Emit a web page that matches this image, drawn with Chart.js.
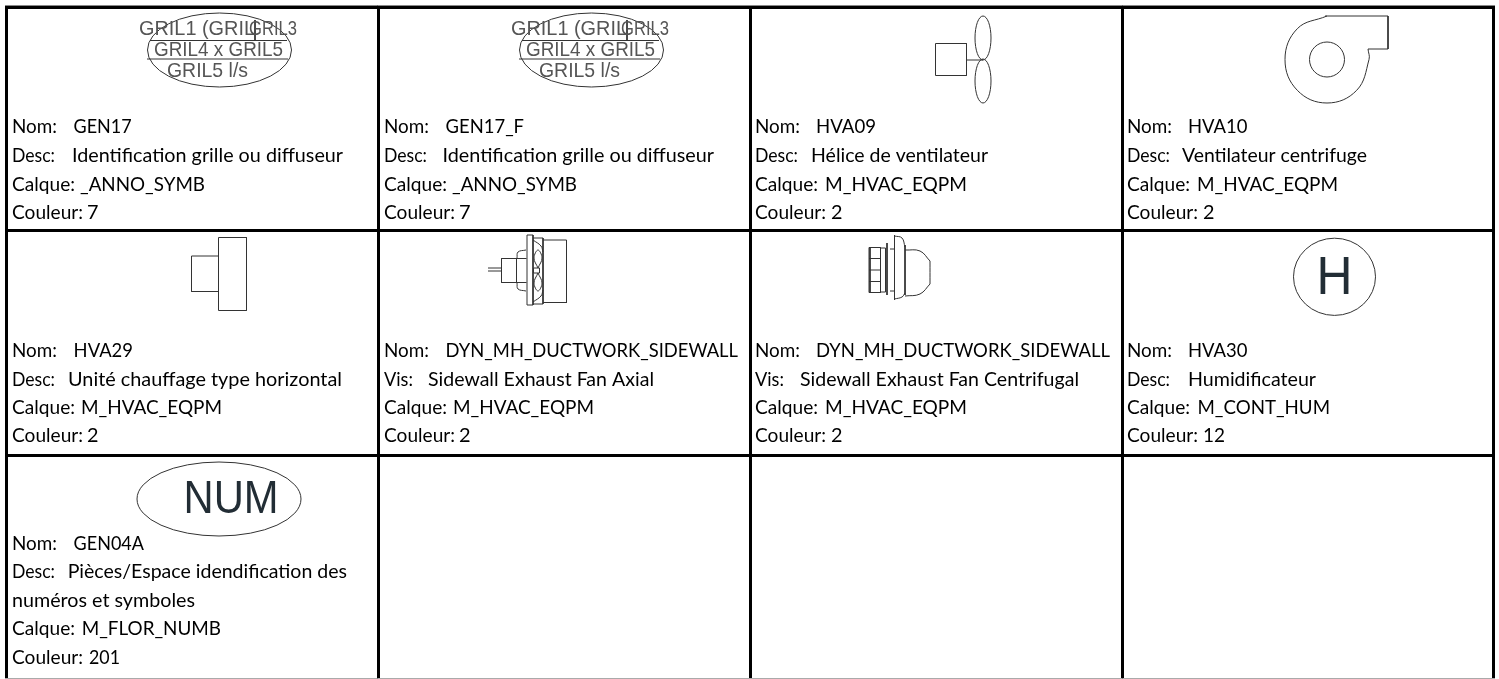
<!DOCTYPE html>
<html><head><meta charset="utf-8">
<style>html,body{margin:0;padding:0;background:#fff;overflow:hidden}#w{width:1499px;height:679px;position:relative}</style>
<script src="https://cdn.jsdelivr.net/npm/chart.js@4"></script>
</head><body><div id="w"><canvas id="c" width="1499" height="679"></canvas></div>
<script>
const colEdges=[6.5,378,750.5,1122.5,1493.5];
const rowEdges=[7,231,455,678.5];
const colText=[12,384,755,1127];
const labelFit={"Nom:":45,"Desc:":43,"Vis:":29,"Calque:":63,"Couleur:":71};
const row1=[
[["Nom:","GEN17"],["Desc:","Identification grille ou diffuseur"],["Calque:","_ANNO_SYMB"],["Couleur:","7"]],
[["Nom:","GEN17_F"],["Desc:","Identification grille ou diffuseur"],["Calque:","_ANNO_SYMB"],["Couleur:","7"]],
[["Nom:","HVA09"],["Desc:","Hélice de ventilateur"],["Calque:","M_HVAC_EQPM"],["Couleur:","2"]],
[["Nom:","HVA10"],["Desc:","Ventilateur centrifuge"],["Calque:","M_HVAC_EQPM"],["Couleur:","2"]]];
const row2=[
[["Nom:","HVA29"],["Desc:","Unité chauffage type horizontal"],["Calque:","M_HVAC_EQPM"],["Couleur:","2"]],
[["Nom:","DYN_MH_DUCTWORK_SIDEWALL"],["Vis:","Sidewall Exhaust Fan Axial"],["Calque:","M_HVAC_EQPM"],["Couleur:","2"]],
[["Nom:","DYN_MH_DUCTWORK_SIDEWALL"],["Vis:","Sidewall Exhaust Fan Centrifugal"],["Calque:","M_HVAC_EQPM"],["Couleur:","2"]],
[["Nom:","HVA30"],["Desc:","Humidificateur"],["Calque:","M_CONT_HUM"],["Couleur:","12"]]];
const row3=[
[["Nom:","GEN04A"],["Desc:","Pièces/Espace idendification des"],["","numéros et symboles"],["Calque:","M_FLOR_NUMB"],["Couleur:","201"]]];
const rowLineY=[[127,156,185,213],[351,380,408,436],[544,572,601,629,658]];
// start and end x of each value text
const valueSpan1=[
[[73.6,131.7],[72,343],[80,205],[87,98.5]],
[[445.6,524],[442.5,714],[452,577],[459,470.6]],
[[816,876],[811,988],[825,967],[831,842.5]],
[[1188,1247.5],[1182,1367],[1197,1338],[1203,1214.5]]];
const valueSpan2=[
[[73.6,133],[68,342],[81,222],[87,98.5]],
[[445.6,738],[428,654],[453,594],[459,470.6]],
[[816,1110],[800,1079],[825,967],[831,842.5]],
[[1188,1247.5],[1188,1316],[1197.5,1330],[1203,1225]]];
const valueSpan3=[
[[73.6,144],[67.7,347],[12,195],[81.7,221],[89,120]]];

// symbol labels: text, x centre, y centre, font px, fitted width, colour
const symbolLabels=[
["GRIL1 (GRIL",197,29,21,116,"#555"],["GRIL3",273,29,21,48,"#555"],["GRIL4 x GRIL5",218.5,50,21,129,"#555"],["GRIL5 l/s",207.5,71,21,81,"#555"],
["GRIL1 (GRIL",569,29,21,116,"#555"],["GRIL3",645,29,21,48,"#555"],["GRIL4 x GRIL5",590.5,50,21,129,"#555"],["GRIL5 l/s",579.5,71,21,81,"#555"],
["H",1334.5,279,53,36,"#222d35"],["NUM",231,500,46,95,"#222d35"]];
// ellipses: cx, cy, rx, ry
const ellipses=[[219.5,50,72,37],[591.5,50,72,37],[983,38,8,22],[983,81,8,22],[1327,59.5,17.5,17.5],[1334.5,276.8,41,38.6],[219,499,82,37]];
// straight outlines
const lines=[
[[150,40.5],[287,40.5]],[[147,59],[288,59]],[[255,20],[255,40.5]],
[[522,40.5],[659,40.5]],[[519,59],[660,59]],[[627,20],[627,40.5]],
[[935.5,43.5],[966.5,43.5],[966.5,75.5],[935.5,75.5],[935.5,43.5]],[[966.5,60],[983,60]],
[[1325,16],[1388,16],[1388,49],[1368,49]],
[[218.5,256],[191.5,256],[191.5,291.5],[218.5,291.5]],[[218.5,237.5],[246.5,237.5],[246.5,310.5],[218.5,310.5],[218.5,237.5]],
[[488,268],[501.5,268]],[[488,271],[501.5,271]],[[501.5,258.5],[526.5,258.5]],[[501.5,282.5],[526.5,282.5]],[[501.5,258.5],[501.5,282.5]],[[516.5,258.5],[516.5,282.5]],
[[527,235],[533,235],[533,305],[527,305],[527,235]],[[543,240],[566.5,240]],[[543,302.5],[566.5,302.5]],[[566.5,240],[566.5,303]],[[533,238],[543,238]],[[533,304],[543,304]],[[543,238],[543,304]],
[[533.5,268],[539.5,268],[539.5,273],[533.5,273],[533.5,268]],
[[869,247.5],[880.5,247.5],[880.5,292.5],[869,292.5],[869,247.5]],[[870,247.5],[870,292.5]],[[869,258.5],[880.5,258.5]],[[869,270],[880.5,270]],[[869,281.5],[880.5,281.5]],[[885.5,248],[885.5,292]],[[880.5,248],[885.5,248]],[[880.5,292],[885.5,292]],
[[887,243],[887,295]],[[890,249],[894,249]],[[890,291],[894,291]],[[894.5,235],[894.5,300]],[[905,245],[905,295]]
];
// curved outlines
const curves=[
[[1368,49],[1369,59.5],[1356.7,90.3],[1327,103],[1297.3,90.3],[1285,59.5],[1297.3,28.7],[1327,16]],
[[517,258],[518,252],[526,250]],[[517,283],[518,289],[526,291]],
[[533,240],[541,246],[543,252]],[[533,302],[541,296],[543,290]],
[[538,268],[534,258],[538,250],[542,258],[538,268]],[[538,273],[534,283],[538,291],[542,283],[538,273]],
[[894.5,236],[902,238],[905,247]],[[894.5,299],[902,297],[905,293]],
[[905,250],[920,251],[930,261]],[[905,296],[920,294],[930,284]],[[930,261],[930,284]]
];
const topRule=[[5,5.5],[1495,5.5]];

const pageText={id:'pageText',afterDatasetsDraw(ch){
 const c=ch.ctx,x=ch.scales.x,y=ch.scales.y;c.save();
 c.textBaseline='middle';
 c.strokeStyle='#333';c.lineWidth=1;
 ellipses.forEach(e=>{c.beginPath();c.ellipse(x.getPixelForValue(e[0]),y.getPixelForValue(e[1]),e[2],e[3],0,0,Math.PI*2);c.stroke();});
 c.textAlign='center';
 symbolLabels.forEach(l=>{c.font=l[3]+'px "Liberation Sans"';c.fillStyle=l[5];c.fillText(l[0],x.getPixelForValue(l[1]),y.getPixelForValue(l[2]),l[4]);});
 c.textAlign='left';c.fillStyle='#000';c.font='20px Lato';
 const spans=[valueSpan1,valueSpan2,valueSpan3];
 [row1,row2,row3].forEach((row,r)=>row.forEach((cell,i)=>cell.forEach((t,j)=>{
   const py=y.getPixelForValue(rowLineY[r][j]);
   if(t[0]) c.fillText(t[0],x.getPixelForValue(colText[i]),py,labelFit[t[0]]);
   const s=spans[r][i][j];
   c.fillText(t[1],x.getPixelForValue(s[0]),py,s[1]-s[0]);
 })));
 c.restore();
}};
const mk=(pts,tension,col)=>({data:pts.map(p=>({x:p[0],y:p[1]})),showLine:true,pointRadius:0,borderColor:col||'#333',borderWidth:1,tension:tension,fill:false});
new Chart(document.getElementById('c'),{
 type:'scatter',
 data:{datasets:[mk(topRule,0,'#888'),...lines.map(p=>mk(p,0)),...curves.map(p=>mk(p,0.4))]},
 plugins:[pageText],
 options:{responsive:false,animation:false,clip:false,
  layout:{padding:{left:5,top:5,right:4,bottom:0}},
  plugins:{legend:{display:false},tooltip:{enabled:false}},
  scales:{
   x:{type:'linear',position:'top',min:5,max:1495,display:true,afterBuildTicks:a=>{a.ticks=colEdges.map(v=>({value:v}))},
      ticks:{display:false},border:{display:false},grid:{color:'#000',lineWidth:3,drawTicks:false}},
   y:{type:'linear',reverse:true,min:5,max:679,display:true,afterBuildTicks:a=>{a.ticks=rowEdges.map(v=>({value:v}))},
      ticks:{display:false},border:{display:false},grid:{color:c=>c.index===3?'#aaa':'#000',lineWidth:c=>c.index===3?1:3,drawTicks:false}}
  }}
});
</script></body></html>
